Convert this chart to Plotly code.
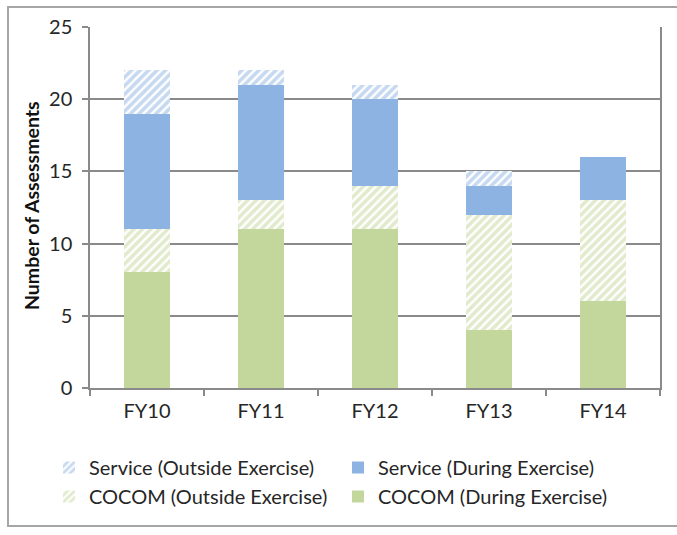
import plotly.graph_objects as go

# Assessment counts per fiscal year
years = ["FY10", "FY11", "FY12", "FY13", "FY14"]
cocom_during = [8, 11, 11, 4, 6]
cocom_outside = [3, 2, 3, 8, 7]
service_during = [8, 8, 6, 2, 3]
service_outside = [3, 1, 1, 1, 0]
y_ticks = [0, 5, 10, 15, 20, 25]

BLUE = "#8DB3E2"
GREEN = "#C3D69B"
FONT = "Lato"

fig = go.Figure()
# stacked bottom-up
fig.add_bar(x=years, y=cocom_during, name="COCOM (During Exercise)",
            marker=dict(color=GREEN, line=dict(width=0)))
fig.add_bar(x=years, y=cocom_outside, name="COCOM (Outside Exercise)",
            marker=dict(color="white", line=dict(width=0),
                        pattern=dict(shape="/", fgcolor=GREEN, bgcolor="white",
                                     size=6, solidity=0.6)))
fig.add_bar(x=years, y=service_during, name="Service (During Exercise)",
            marker=dict(color=BLUE, line=dict(width=0)))
fig.add_bar(x=years, y=service_outside, name="Service (Outside Exercise)",
            marker=dict(color="white", line=dict(width=0),
                        pattern=dict(shape="/", fgcolor=BLUE, bgcolor="white",
                                     size=6, solidity=0.6)))

L, R, T, B = 90, 17, 27, 147
W, H = 677, 535
pw, ph = W - L - R, H - T - B

def px_x(x):
    return (x - L) / pw

def px_y(y):
    return (H - B - y) / ph

fig.update_layout(
    width=W, height=H,
    margin=dict(l=L, r=R, t=T, b=B),
    barmode="stack",
    bargap=0.6,
    paper_bgcolor="white",
    plot_bgcolor="white",
    font=dict(family=FONT, size=20, color="#262626"),
    showlegend=True,
    legend=dict(orientation="h", traceorder="reversed",
                x=px_x(49), y=px_y(448), xanchor="left", yanchor="top",
                entrywidth=244, font=dict(size=20, color="#262626"),
                bgcolor="rgba(0,0,0,0)", itemclick=False),
    xaxis=dict(showline=True, linecolor="#8a8a8a", linewidth=1.5,
               ticks="outside", tickson="boundaries", ticklen=6,
               tickcolor="#8a8a8a", tickwidth=1.5, showgrid=False,
               tickfont=dict(size=20), ticklabelstandoff=4),
    yaxis=dict(range=[0, 25], tickvals=y_ticks, showgrid=True,
               gridcolor="#8a8a8a", gridwidth=1.5, showline=True,
               linecolor="#8a8a8a", linewidth=1.5, mirror=True,
               ticks="outside", ticklen=6, tickcolor="#8a8a8a", tickwidth=1.5,
               zeroline=False, tickfont=dict(size=20), ticklabelstandoff=6),
    annotations=[dict(text="<b>Number of Assessments</b>", textangle=-90,
                      xref="paper", yref="paper", x=px_x(31), y=px_y(206),
                      xanchor="center", yanchor="middle",
                      showarrow=False, font=dict(size=19.5, color="#111111"))],
    shapes=[dict(type="rect", xref="paper", yref="paper",
                 x0=px_x(8), x1=px_x(690), y0=px_y(526), y1=px_y(7),
                 line=dict(color="#a6a6a6", width=2), layer="below")],
)

fig.write_html("out.html")
